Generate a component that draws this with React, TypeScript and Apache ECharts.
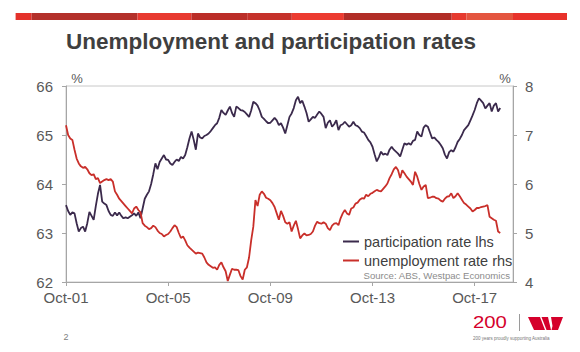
import React, { useEffect, useRef } from "react";
import * as echarts from "echarts";

// Monthly, Oct-2001 .. Oct-2018
const participation: number[] = [
  63.57, 63.45, 63.37, 63.42, 63.40, 63.20, 63.03, 63.10, 63.13, 63.03, 63.20, 63.43,
  63.35, 63.27, 63.55, 63.80, 63.98, 63.64, 63.60, 63.57, 63.45, 63.37, 63.35, 63.42,
  63.36, 63.42, 63.35, 63.30, 63.32, 63.30, 63.33, 63.36, 63.40, 63.35, 63.42, 63.30,
  63.50, 63.70, 63.78, 63.85, 64.00, 64.20, 64.42, 64.30, 64.45, 64.52, 64.59, 64.50,
  64.49, 64.42, 64.39, 64.45, 64.50, 64.47, 64.55, 64.52, 64.59, 64.75, 64.93, 65.07,
  64.90, 64.70, 65.03, 64.95, 64.93, 64.98, 65.00, 65.03, 65.08, 65.14, 65.20, 65.24,
  65.35, 65.51, 65.45, 65.41, 65.50, 65.58, 65.45, 65.37, 65.58, 65.55, 65.51, 65.50,
  65.47, 65.42, 65.37, 65.50, 65.68, 65.65, 65.60, 65.50, 65.37, 65.33, 65.28, 65.24,
  65.25, 65.30, 65.35, 65.30, 65.20, 65.24, 65.15, 65.03, 65.20, 65.37, 65.44, 65.55,
  65.71, 65.78, 65.65, 65.70, 65.58, 65.45, 65.27, 65.32, 65.37, 65.35, 65.42, 65.48,
  65.43, 65.37, 65.14, 65.25, 65.30, 65.17, 65.22, 65.30, 65.10, 65.20, 65.22, 65.27,
  65.22, 65.17, 65.20, 65.27, 65.20, 65.18, 65.14, 65.07, 65.05, 64.98, 64.90, 64.85,
  64.76, 64.60, 64.46, 64.55, 64.66, 64.60, 64.62, 64.59, 64.70, 64.76, 64.70, 64.66,
  64.62, 64.56, 64.70, 64.83, 64.80, 64.83, 64.80, 64.88, 64.90, 65.07, 65.00, 64.97,
  65.15, 65.20, 65.17, 65.05, 64.93, 64.95, 64.90, 64.86, 64.80, 64.73, 64.60, 64.52,
  64.65, 64.69, 64.66, 64.75, 64.86, 64.92, 65.00, 65.10, 65.15, 65.20, 65.30, 65.40,
  65.51, 65.65, 65.75, 65.70, 65.65, 65.54, 65.60, 65.65, 65.48, 65.60, 65.65, 65.48,
  65.55,
];

const unemployment: number[] = [
  7.20, 7.00, 6.93, 6.90, 6.70, 6.52, 6.42, 6.36, 6.33, 6.35, 6.30, 6.22,
  6.18, 6.20, 6.10, 6.12, 6.02, 6.05, 6.08, 6.10, 6.08, 6.10, 6.05, 5.85,
  5.78, 5.70, 5.65, 5.60, 5.55, 5.50, 5.45, 5.40, 5.50, 5.54, 5.47, 5.42,
  5.20, 5.15, 5.12, 5.08, 5.10, 5.15, 5.12, 5.05, 5.00, 4.98, 4.93, 4.96,
  4.98, 5.03, 5.10, 5.16, 5.12, 5.00, 4.90, 4.93, 4.85, 4.75, 4.70, 4.66,
  4.62, 4.58, 4.60, 4.59, 4.58, 4.50, 4.40, 4.35, 4.32, 4.29, 4.30, 4.25,
  4.35, 4.40, 4.30, 4.22, 4.02, 4.15, 4.27, 4.25, 4.25, 4.24, 4.12, 4.05,
  4.25, 4.30, 4.50, 4.85, 5.13, 5.67, 5.55, 5.78, 5.85, 5.80, 5.72, 5.70,
  5.67, 5.61, 5.53, 5.40, 5.27, 5.45, 5.35, 5.22, 5.19, 5.22, 5.03, 5.15,
  5.25, 5.08, 4.89, 4.95, 4.99, 4.95, 4.96, 4.98, 5.03, 5.15, 5.23, 5.20,
  5.19, 5.22, 5.19, 5.10, 5.06, 5.15, 5.19, 5.20, 5.16, 5.30, 5.40, 5.47,
  5.40, 5.37, 5.50, 5.52, 5.60, 5.62, 5.68, 5.71, 5.70, 5.78, 5.75, 5.80,
  5.82, 5.85, 5.88, 5.86, 5.85, 5.90, 5.95, 6.01, 6.12, 6.20, 6.30, 6.35,
  6.28, 6.12, 6.28, 6.22, 6.15, 6.10, 6.05, 5.98, 6.25, 6.15, 6.00, 5.88,
  5.95, 5.98, 5.71, 5.72, 5.74, 5.74, 5.71, 5.70, 5.66, 5.64, 5.70, 5.74,
  5.75, 5.81, 5.71, 5.75, 5.81, 5.75, 5.68, 5.61, 5.58, 5.54, 5.50, 5.44,
  5.47, 5.51, 5.51, 5.53, 5.54, 5.55, 5.57, 5.33, 5.30, 5.27, 5.25, 5.03,
  5.00,
];

const tickLabels = ["Oct-01", "Oct-05", "Oct-09", "Oct-13", "Oct-17"];
const monthNames = ["Jan", "Feb", "Mar", "Apr", "May", "Jun", "Jul", "Aug", "Sep", "Oct", "Nov", "Dec"];
const seriesNames = ["participation rate lhs", "unemployment rate rhs"];
const leftTicks = [62, 66];
const rightTicks = [4, 8];

// axis runs Oct-01 .. Apr-19
const categories: string[] = [];
for (let i = 0; i <= 210; i++) {
  const k = 9 + i;
  const yr = (1 + Math.floor(k / 12)) % 100;
  categories.push(`${monthNames[k % 12]}-${String(yr).padStart(2, "0")}`);
}

const FONT = "'Liberation Sans', Arial, sans-serif";
const AXIS_COLOR = "#a6a6a6";
const LABEL_COLOR = "#595959";

export default function App() {
  const ref = useRef<HTMLDivElement>(null);
  useEffect(() => {
    if (!ref.current) return;
    const chart = echarts.init(ref.current, null, { renderer: "svg" });
    const showIdx = (i: number) => tickLabels.includes(categories[i]);

    const barSegs: [number, number, string][] = [
      [15.6, 31.6, "#e4322b"],
      [31.6, 137.5, "#b3302a"],
      [137.5, 191.4, "#e83a30"],
      [191.4, 247.2, "#bb2e28"],
      [247.2, 291.8, "#c5322b"],
      [291.8, 343.9, "#ec3b30"],
      [343.9, 451.7, "#b12d27"],
      [451.7, 466.5, "#e63a2f"],
      [466.5, 513, "#e4553f"],
      [513, 567, "#e8322b"],
    ];

    chart.setOption({
      animation: false,
      backgroundColor: "#ffffff",
      textStyle: { fontFamily: FONT },
      grid: {
        left: 66,
        right: 67,
        top: 86,
        bottom: 70,
        show: true,
        borderColor: "#c8c8c8",
        borderWidth: 1,
        backgroundColor: "transparent",
      },
      legend: {
        data: seriesNames,
        orient: "vertical",
        left: 338,
        top: 229,
        icon: "rect",
        itemWidth: 16,
        itemHeight: 2,
        itemGap: 4,
        textStyle: { fontSize: 14.5, color: "#404040", fontFamily: FONT },
      },
      xAxis: {
        type: "category",
        data: categories,
        boundaryGap: false,
        axisLine: { lineStyle: { color: AXIS_COLOR, width: 1 } },
        axisTick: { show: true, interval: showIdx, length: 4, lineStyle: { color: AXIS_COLOR } },
        axisLabel: {
          interval: showIdx,
          fontSize: 15,
          color: LABEL_COLOR,
          margin: 8,
          fontFamily: FONT,
        },
        splitLine: { show: false },
      },
      yAxis: [
        {
          type: "value",
          position: "left",
          min: leftTicks[0],
          max: leftTicks[1],
          interval: 1,
          axisLine: { show: true, lineStyle: { color: AXIS_COLOR, width: 1 } },
          axisTick: { show: true, length: 4, lineStyle: { color: AXIS_COLOR } },
          axisLabel: { fontSize: 15, color: LABEL_COLOR, margin: 13, fontFamily: FONT },
          splitLine: { show: false },
        },
        {
          type: "value",
          position: "right",
          min: rightTicks[0],
          max: rightTicks[1],
          interval: 1,
          axisLine: { show: true, lineStyle: { color: AXIS_COLOR, width: 1 } },
          axisTick: { show: true, length: 4, lineStyle: { color: AXIS_COLOR } },
          axisLabel: { fontSize: 15, color: LABEL_COLOR, margin: 12, fontFamily: FONT },
          splitLine: { show: false },
        },
      ],
      series: [
        {
          name: seriesNames[0],
          type: "line",
          yAxisIndex: 0,
          data: participation,
          showSymbol: false,
          symbol: "none",
          color: "#3b2a4c",
          lineStyle: { width: 1.8, color: "#3b2a4c" },
        },
        {
          name: seriesNames[1],
          type: "line",
          yAxisIndex: 1,
          data: unemployment,
          showSymbol: false,
          symbol: "none",
          color: "#c92f2a",
          lineStyle: { width: 1.8, color: "#c92f2a" },
        },
      ],
      graphic: [
        ...barSegs.map(([a, b, c]) => ({
          type: "rect",
          shape: { x: a, y: 13, width: b - a, height: 7 },
          style: { fill: c },
        })),
        {
          type: "text",
          x: 66,
          y: 41.5,
          style: {
            text: "Unemployment and participation rates",
            font: `bold 22.5px ${FONT}`,
            fill: "#3f3f3f",
            textVerticalAlign: "middle",
          },
        },
        {
          type: "text",
          x: 77,
          y: 78,
          style: { text: "%", font: `13px ${FONT}`, fill: LABEL_COLOR, textAlign: "center", textVerticalAlign: "middle" },
        },
        {
          type: "text",
          x: 505,
          y: 78,
          style: { text: "%", font: `13px ${FONT}`, fill: LABEL_COLOR, textAlign: "center", textVerticalAlign: "middle" },
        },
        {
          type: "text",
          x: 510,
          y: 275,
          style: {
            text: "Source: ABS, Westpac Economics",
            font: `9.6px ${FONT}`,
            fill: "#8c8c8c",
            textAlign: "right",
            textVerticalAlign: "middle",
          },
        },
        {
          type: "text",
          x: 66,
          y: 337,
          style: { text: "2", font: `9px ${FONT}`, fill: "#808080", textAlign: "center", textVerticalAlign: "middle" },
        },
        {
          type: "text",
          x: 473,
          y: 322.5,
          scaleX: 1.27,
          style: { text: "200", font: `16px ${FONT}`, fill: "#d5002b", textVerticalAlign: "middle" },
        },
        {
          type: "line",
          shape: { x1: 519.5, y1: 314, x2: 519.5, y2: 331 },
          style: { stroke: "#9a9a9a", lineWidth: 1 },
        },
        {
          type: "polygon",
          shape: { points: [[528, 317], [540, 317], [545, 330], [534, 330]] },
          style: { fill: "#d5002b" },
        },
        {
          type: "polygon",
          shape: { points: [[541.5, 317], [548, 317], [551, 330], [546.5, 330]] },
          style: { fill: "#d5002b" },
        },
        {
          type: "polygon",
          shape: { points: [[551, 317], [563, 317], [558, 330], [551.5, 330], [552.5, 326]] },
          style: { fill: "#d5002b" },
        },
        {
          type: "text",
          x: 473,
          y: 338,
          style: {
            text: "200 years proudly supporting Australia",
            font: `4.5px ${FONT}`,
            fill: "#777777",
            textVerticalAlign: "middle",
          },
        },
      ],
    });
    return () => chart.dispose();
  }, []);

  return (
    <div
      ref={ref}
      style={{ position: "fixed", left: 0, top: 0, width: 580, height: 352, background: "#fff" }}
    />
  );
}
